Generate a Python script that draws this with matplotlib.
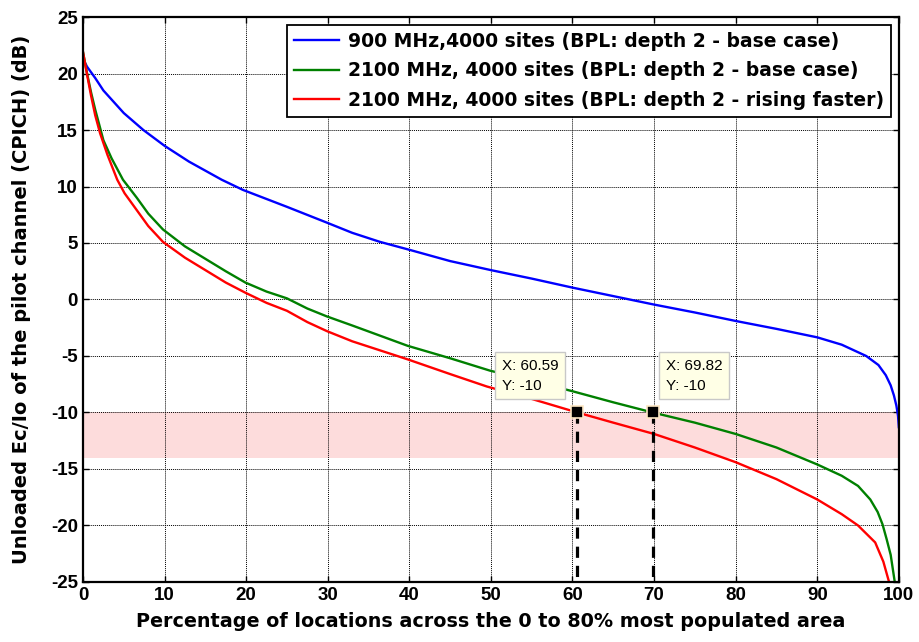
import numpy as np
import matplotlib.pyplot as plt

# values
blue_x = [0, 0.5, 1.5, 2.5, 5, 7.4, 10, 13, 17, 19.6, 25, 29.9, 33, 36.4, 40, 45, 50, 55, 60, 65, 70,
          75, 80, 85, 90, 93, 96, 97.5, 98.4, 99.0, 99.4, 99.7, 99.9, 100]
blue_y = [21.3, 20.6, 19.6, 18.5, 16.5, 15.0, 13.6, 12.2, 10.6, 9.7, 8.2, 6.8, 5.9, 5.1, 4.4, 3.4, 2.6, 1.85, 1.05, 0.3, -0.45,
          -1.15, -1.9, -2.6, -3.35, -4.0, -5.0, -5.8, -6.7, -7.6, -8.5, -9.4, -10.3, -11.3]

green_x = [0, 0.5, 1, 1.5, 2.5, 3.5, 4.9, 6.6, 8, 9.8, 12.5, 15, 17.5, 19.9, 22.5, 25, 27.5, 29.9, 33, 36.4,
           39.8, 45, 49.9, 55, 59.9, 65, 69.82, 75, 80, 85, 90, 93, 95, 96.5, 97.4, 98, 98.5, 99, 99.5]
green_y = [21.9, 20.0, 18.3, 16.8, 14.1, 12.5, 10.6, 9.0, 7.6, 6.2, 4.7, 3.6, 2.5, 1.5, 0.7, 0.1, -0.8, -1.5, -2.3, -3.2,
           -4.1, -5.2, -6.3, -7.2, -8.1, -9.1, -10.0, -10.9, -11.9, -13.1, -14.6, -15.6, -16.5, -17.7, -18.8, -19.9, -21.2, -22.6, -25.0]

red_x = [0, 0.5, 1, 1.5, 2.1, 3, 4.2, 5.1, 6.5, 8, 9.8, 12.5, 15, 17.5, 19.9, 22.5, 25, 27.5, 29.9, 33, 36.4,
         39.8, 45, 49.5, 55, 60.59, 65, 70, 75, 80, 85, 90, 93, 95, 97.1, 98.1, 98.8]
red_y = [21.9, 19.9, 18.0, 16.3, 14.7, 12.8, 10.6, 9.4, 8.0, 6.5, 5.1, 3.7, 2.6, 1.5, 0.6, -0.3, -1.0, -2.0, -2.8, -3.7, -4.5,
         -5.3, -6.6, -7.7, -8.8, -10.0, -10.9, -11.9, -13.1, -14.4, -15.9, -17.7, -19.0, -20.0, -21.5, -23.2, -25.0]

labels = ['900 MHz,4000 sites (BPL: depth 2 - base case)',
          '2100 MHz, 4000 sites (BPL: depth 2 - base case)',
          '2100 MHz, 4000 sites (BPL: depth 2 - rising faster)']

tip_x = [60.59, 69.82]
tip_y = [-10, -10]
band = (-14, -10)

plt.rcParams['font.family'] = ['Liberation Sans', 'DejaVu Sans']
plt.rcParams['axes.unicode_minus'] = False

fig = plt.figure(figsize=(9.2, 6.42), dpi=100)
ax = fig.add_axes([0.0902, 0.0935, 0.977 - 0.0902, 0.9735 - 0.0935])

ax.axhspan(band[0], band[1], color='#fddcdc', lw=0, zorder=0.5)

ax.plot(blue_x, blue_y, color='#0000ff', lw=1.7, label=labels[0])
ax.plot(green_x, green_y, color='#008000', lw=1.7, label=labels[1])
ax.plot(red_x, red_y, color='#ff0000', lw=1.7, label=labels[2])

for tx, ty in zip(tip_x, tip_y):
  ax.plot([tx, tx], [ty, -25], color='black', lw=2.3, ls=(0, (3.5, 2.5)), zorder=3)
  ax.plot(tx, ty, 's', color='black', ms=8, mec='#fde7c4', mew=1.2, zorder=4)

box = dict(boxstyle='square,pad=0.45', fc='#ffffe6', ec='#c8c8c8', lw=1)
ax.text(51.3, -6.75, 'X: %.2f\nY: %d' % (tip_x[0], tip_y[0]), fontsize=11,
        va='center', ha='left', linespacing=1.5, bbox=box, zorder=5)
ax.text(71.4, -6.75, 'X: %.2f\nY: %d' % (tip_x[1], tip_y[1]), fontsize=11,
        va='center', ha='left', linespacing=1.5, bbox=box, zorder=5)

ax.set_xlim(0, 100)
ax.set_ylim(-25, 25)
ax.set_xticks(np.arange(0, 101, 10))
ax.set_yticks(np.arange(-25, 26, 5))
ax.grid(True, color='black', ls=(0, (1, 1)), lw=0.7)
ax.tick_params(direction='in', top=True, right=True, length=4, width=1, labelsize=13.5)
for lab in ax.get_xticklabels() + ax.get_yticklabels():
  lab.set_fontweight('bold')
for s in ax.spines.values():
  s.set_linewidth(1.6)

ax.set_xlabel('Percentage of locations across the 0 to 80% most populated area',
              fontsize=13.8, fontweight='bold', family='DejaVu Sans', va='center')
ax.set_ylabel('Unloaded Ec/Io of the pilot channel (CPICH) (dB)',
              fontsize=14, fontweight='bold', family='DejaVu Sans', va='center')
ax.xaxis.set_label_coords(0.5, -0.0708)
ax.yaxis.set_label_coords(-0.0748, 0.5)

leg = ax.legend(loc='upper right', prop={'weight': 'bold', 'size': 13.5, 'family': 'DejaVu Sans'},
                fancybox=False, framealpha=1, edgecolor='black', handlelength=2.4,
                borderaxespad=0.4, labelspacing=0.55, handletextpad=0.45, borderpad=0.4)
leg.get_frame().set_linewidth(1.3)

fig.savefig('out.png', dpi=100)
